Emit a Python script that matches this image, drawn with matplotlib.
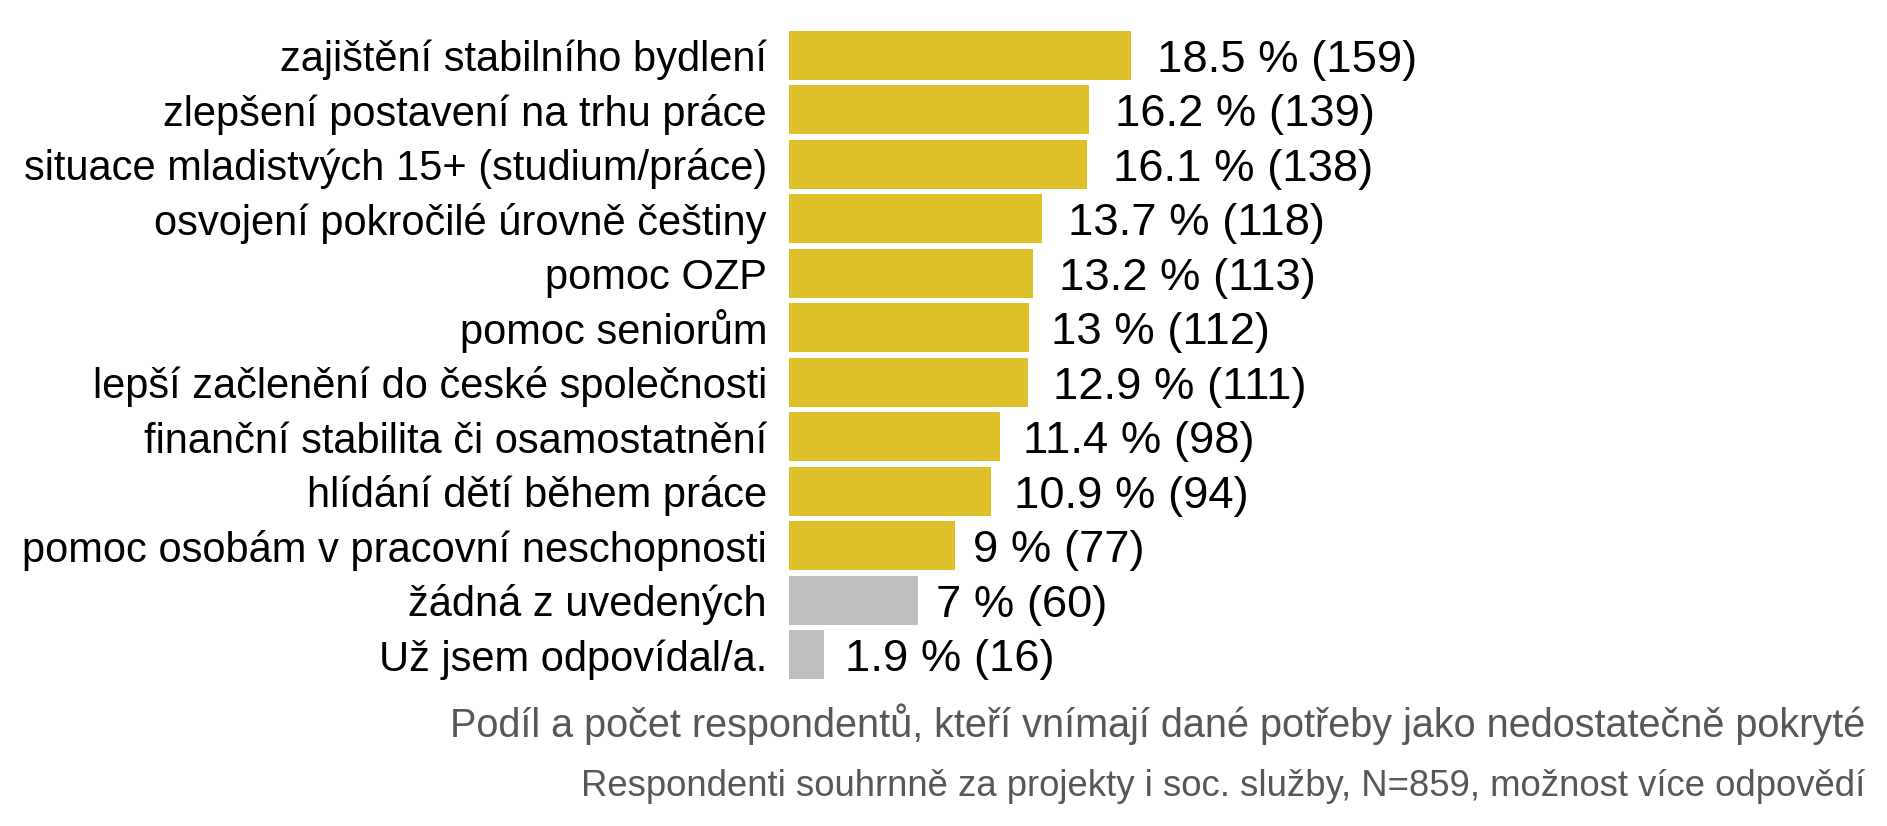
import matplotlib
matplotlib.use("Agg")
from matplotlib import pyplot as plt
from matplotlib.transforms import offset_copy

plt.rcParams['font.family'] = ['Liberation Sans', 'DejaVu Sans']

categories = [
    "zajištění stabilního bydlení",
    "zlepšení postavení na trhu práce",
    "situace mladistvých 15+ (studium/práce)",
    "osvojení pokročilé úrovně češtiny",
    "pomoc OZP",
    "pomoc seniorům",
    "lepší začlenění do české společnosti",
    "finanční stabilita či osamostatnění",
    "hlídání dětí během práce",
    "pomoc osobám v pracovní neschopnosti",
    "žádná z uvedených",
    "Už jsem odpovídal/a.",
]
percents = [18.5, 16.2, 16.1, 13.7, 13.2, 13.0, 12.9, 11.4, 10.9, 9.0, 7.0, 1.9]
counts = [159, 139, 138, 118, 113, 112, 111, 98, 94, 77, 60, 16]
pct_labels = ["18.5", "16.2", "16.1", "13.7", "13.2", "13", "12.9", "11.4", "10.9", "9", "7", "1.9"]
is_other = [False] * 10 + [True, True]

caption1 = "Podíl a počet respondentů, kteří vnímají dané potřeby jako nedostatečně pokryté"
caption2 = "Respondenti souhrnně za projekty i soc. služby, N=859, možnost více odpovědí"

YELLOW = "#DEC02A"
GREY = "#BEBEBE"

fig = plt.figure(figsize=(18.87, 8.26), dpi=100)
W, H = 1887, 826
x0, x1 = 789, 1865
ytop, ybot = 28, 682
ax = fig.add_axes([x0 / W, 1 - ybot / H, (x1 - x0) / W, (ybot - ytop) / H])

px_per_pct = 18.49
ax.set_xlim(0, (x1 - x0) / px_per_pct)
ax.set_ylim(len(categories) - 0.5, -0.5)

ypos = list(range(len(categories)))
colors = [GREY if o else YELLOW for o in is_other]
ax.barh(ypos, percents, height=0.9, color=colors, linewidth=0)

for s in ax.spines.values():
    s.set_visible(False)
ax.set_xticks([])
ax.set_yticks([])

# category labels (baseline a bit below bar centre)
lab_tr = offset_copy(ax.transData, fig=fig, x=-22, y=-16, units='dots')
for y, c in zip(ypos, categories):
    ax.text(0, y, c, fontsize=30, ha='right', va='baseline', color="black",
            transform=lab_tr, clip_on=False)

# value labels, offset by 10 % of their own width (like hjust=-0.1)
fig.canvas.draw()
renderer = fig.canvas.get_renderer()
for y, p, lab, n in zip(ypos, percents, pct_labels, counts):
    t = ax.text(p, y, f"{lab} % ({n})", fontsize=32.7, va='baseline', ha='left', color="black")
    w = t.get_window_extent(renderer).width
    t.set_transform(offset_copy(ax.transData, fig=fig, x=0.1 * w, y=-16.5, units='dots'))

fig.text(x1 / W, 1 - 737 / H, caption1, ha='right', va='baseline', fontsize=28.5, color="#575757")
fig.text(x1 / W, 1 - 796 / H, caption2, ha='right', va='baseline', fontsize=26.3, color="#575757")

fig.savefig("out.png", dpi=100, facecolor="white")
plt.close(fig)
